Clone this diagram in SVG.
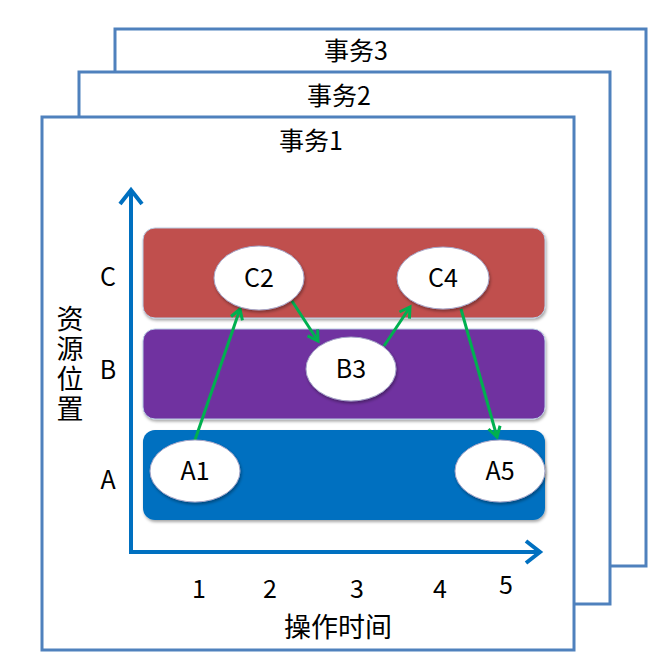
<svg xmlns="http://www.w3.org/2000/svg" width="671" height="662" viewBox="0 0 671 662">
<style>
.frame{fill:#fff;stroke:#4F81BD;stroke-width:3}
.t{font-family:"Noto Sans CJK SC","Noto Sans",sans-serif;font-size:25px;fill:#000;text-anchor:middle}
.node{fill:#fff;stroke:#A6A6C8;stroke-width:1;filter:url(#sh)}
.edge{stroke:#00B050;stroke-width:3;fill:none;marker-end:url(#ga)}
.axis{stroke:#0070C0;stroke-width:4;fill:none}
</style>
<defs>
<filter id="sh" x="-20%" y="-20%" width="140%" height="150%"><feDropShadow dx="1" dy="2" stdDeviation="1.5" flood-color="#000" flood-opacity="0.35"/></filter>
<marker id="ga" viewBox="0 0 16 16" refX="13" refY="8" markerWidth="16" markerHeight="16" orient="auto" markerUnits="userSpaceOnUse">
<path d="M3,2 L13,8 L3,14" fill="none" stroke="#00B050" stroke-width="3" stroke-linejoin="miter"/>
</marker>
</defs>
<g id="frame3"><rect class="frame" x="115" y="29" width="531" height="537"/><text class="t" x="356" y="60">事务3</text></g>
<g id="frame2"><rect class="frame" x="79" y="72" width="531" height="532"/><text class="t" x="339" y="105">事务2</text></g>
<g id="frame1"><rect class="frame" x="42" y="117" width="532" height="533"/><text class="t" x="311" y="150">事务1</text></g>
<g id="axes">
<path class="axis" d="M131,552 V190"/>
<path class="axis" d="M120,204 L131,190 L142,204"/>
<path class="axis" d="M129,552 H540"/>
<path class="axis" d="M526,541 L540,552 L526,563"/>
</g>
<g id="bandC"><rect x="143" y="228" width="402" height="90" rx="12" fill="#C0504D" stroke="#B8CCE4" stroke-width="1" filter="url(#sh)"/><text class="t" x="108" y="286">C</text></g>
<g id="bandB"><rect x="143" y="329" width="402" height="90" rx="12" fill="#7030A0" stroke="#B8CCE4" stroke-width="1" filter="url(#sh)"/><text class="t" x="108" y="379">B</text></g>
<g id="bandA"><rect x="143" y="430" width="402" height="90" rx="12" fill="#0070C0" filter="url(#sh)"/><text class="t" x="108" y="489">A</text></g>
<g id="ylabel">
<text class="t" x="70" y="365" style="font-size:27px;writing-mode:vertical-rl;letter-spacing:3px;text-anchor:middle">资源位置</text>
</g>
<g id="xlabels">
<text class="t" x="199" y="598">1</text>
<text class="t" x="270" y="598">2</text>
<text class="t" x="357" y="598">3</text>
<text class="t" x="440" y="598">4</text>
<text class="t" x="506" y="594">5</text>
<text class="t" x="338" y="637" style="font-size:27px">操作时间</text>
</g>
<g id="edges">
<line class="edge" x1="195" y1="440" x2="240" y2="309"/>
<line class="edge" x1="292" y1="301" x2="318" y2="341"/>
<line class="edge" x1="384" y1="346" x2="410" y2="307"/>
<line class="edge" x1="461" y1="309" x2="497" y2="437"/>
</g>
<g id="C2"><ellipse class="node" cx="259" cy="278" rx="45" ry="32"/><text class="t" x="259" y="287">C2</text></g>
<g id="C4"><ellipse class="node" cx="443" cy="278" rx="46" ry="31"/><text class="t" x="443" y="287">C4</text></g>
<g id="B3"><ellipse class="node" cx="351" cy="369" rx="45" ry="32"/><text class="t" x="351" y="378">B3</text></g>
<g id="A1"><ellipse class="node" cx="195" cy="471" rx="45" ry="31"/><text class="t" x="195" y="480">A1</text></g>
<g id="A5"><ellipse class="node" cx="500" cy="471" rx="45" ry="31"/><text class="t" x="500" y="480">A5</text></g>
</svg>
